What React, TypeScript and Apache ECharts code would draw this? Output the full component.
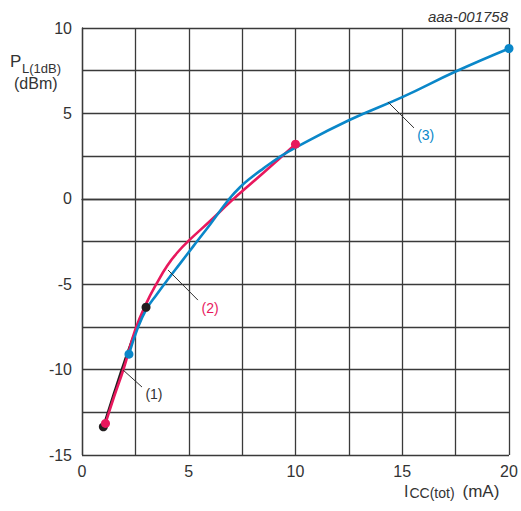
import React, { useEffect, useRef } from "react";
import * as echarts from "echarts";

// Curve (1): black
const curve1: number[][] = [
  [1, -13.35], [1.5, -11.4], [2, -9.5], [2.5, -7.8], [3, -6.35],
];
// Curve (2): red
const curve2: number[][] = [
  [1.1, -13.15], [1.5, -11.6], [1.95, -9.95], [2.5, -7.65], [3, -6.15],
  [3.5, -4.95], [4, -3.9], [4.5, -3.1], [5, -2.45], [6, -1.3], [7, -0.12],
  [8, 0.98], [9, 2.08], [10, 3.2],
];
// Curve (3): blue
const curve3: number[][] = [
  [2.2, -9.1], [2.6, -7.6], [3, -6.5], [3.5, -5.6], [4, -4.75], [4.6, -3.78],
  [5.2, -2.8], [6, -1.5], [6.9, 0], [7.4, 0.68], [7.9, 1.22], [8.5, 1.78],
  [9.2, 2.4], [10, 3.0], [12.5, 4.6], [15, 5.95], [17.5, 7.45], [20, 8.8],
];

// Annotation leaders [from, to] and label anchors
const leader1 = [[1.92, -10.02], [2.81, -11.02]];
const leader2 = [[4.03, -4.17], [5.43, -5.93]];
const leader3 = [[14.33, 5.67], [15.55, 4.15]];
const label1 = [3.37, -11.43];
const label2 = [6.0, -6.4];
const label3 = [16.1, 3.73];

const xRange = [0, 20];
const yRange = [-15, 10];
const gridStep = 2.5;
const labelStep = 5;

const BLACK = "#231f20";
const RED = "#e8185d";
const BLUE = "#0a87c9";
const GRID = "#3a3a3a";
const FONT = "Liberation Sans, Arial, sans-serif";

function withEnds(pts: number[][], color: string) {
  return pts.map((p, i) =>
    i === 0 || i === pts.length - 1
      ? { value: p, symbol: "circle", symbolSize: 9, itemStyle: { color } }
      : { value: p, symbol: "none" }
  );
}

function makeSeries(
  name: string,
  pts: number[][],
  color: string,
  leader: number[][],
  lbl: number[],
  text: string,
  labelColor: string
) {
  return {
    name,
    type: "line",
    data: withEnds(pts, color),
    smooth: 0.45,
    symbol: "none",
    clip: true,
    lineStyle: { color, width: 2.6 },
    itemStyle: { color },
    markLine: {
      silent: true,
      symbol: "none",
      label: { show: false },
      lineStyle: { color: "#333", width: 1, type: "solid" },
      data: [[{ coord: leader[0] }, { coord: leader[1] }]],
    },
    markPoint: {
      silent: true,
      symbol: "circle",
      symbolSize: 0,
      label: {
        show: true,
        position: "inside",
        formatter: text,
        color: labelColor,
        fontSize: 14,
        fontFamily: FONT,
      },
      data: [{ coord: lbl }],
    },
  };
}

export default function App() {
  const ref = useRef<HTMLDivElement>(null);
  useEffect(() => {
    const chart = echarts.init(ref.current as HTMLDivElement, null, {
      renderer: "svg",
    });
    const axisCommon = {
      type: "value",
      interval: gridStep,
      axisLine: { show: true, lineStyle: { color: GRID, width: 1.3 } },
      axisTick: { show: false },
      splitLine: { show: true, lineStyle: { color: GRID, width: 1.3 } },
      axisLabel: {
        color: "#333",
        fontSize: 16,
        fontFamily: FONT,
        formatter: (v: number) => (Math.abs(v % labelStep) < 1e-9 ? String(v) : ""),
      },
    };
    chart.setOption({
      animation: false,
      backgroundColor: "#ffffff",
      grid: { left: 82, right: 12, top: 28, bottom: 56, containLabel: false },
      xAxis: {
        ...axisCommon,
        min: xRange[0],
        max: xRange[1],
        axisLabel: { ...axisCommon.axisLabel, margin: 8 },
      },
      yAxis: {
        ...axisCommon,
        min: yRange[0],
        max: yRange[1],
        axisLabel: { ...axisCommon.axisLabel, margin: 10 },
      },
      series: [
        makeSeries("(1)", curve1, BLACK, leader1, label1, "(1)", "#333"),
        makeSeries("(2)", curve2, RED, leader2, label2, "(2)", RED),
        makeSeries("(3)", curve3, BLUE, leader3, label3, "(3)", BLUE),
      ],
      graphic: [
        {
          type: "text",
          right: 13,
          top: 9,
          style: {
            text: "aaa-001758",
            fontSize: 15,
            fontStyle: "italic",
            fontFamily: FONT,
            fill: "#333",
          },
        },
        {
          type: "text",
          left: 10,
          top: 53,
          style: { text: "P", fontSize: 17, fontFamily: FONT, fill: "#333" },
        },
        {
          type: "text",
          left: 22,
          top: 62,
          style: { text: "L(1dB)", fontSize: 13, fontFamily: FONT, fill: "#333" },
        },
        {
          type: "text",
          left: 14,
          top: 75,
          style: { text: "(dBm)", fontSize: 16, fontFamily: FONT, fill: "#333" },
        },
        {
          type: "text",
          left: 404,
          top: 478,
          style: {
            text: "{a|I}{b|CC(tot)}{c|(mA)}",
            fontFamily: FONT,
            fill: "#333",
            rich: {
              a: {
                fontSize: 16,
                lineHeight: 16,
                verticalAlign: "top",
                fontFamily: FONT,
                color: "#333",
              },
              b: {
                fontSize: 14,
                lineHeight: 15,
                padding: [8, 0, 0, 1],
                verticalAlign: "bottom",
                fontFamily: FONT,
                color: "#333",
              },
              c: {
                fontSize: 17,
                lineHeight: 17,
                padding: [0, 0, 0, 8],
                verticalAlign: "top",
                fontFamily: FONT,
                color: "#333",
              },
            },
          },
        },
      ],
    });
    return () => chart.dispose();
  }, []);
  return (
    <div
      ref={ref}
      style={{ position: "absolute", left: 0, top: 0, width: 521, height: 511 }}
    />
  );
}
